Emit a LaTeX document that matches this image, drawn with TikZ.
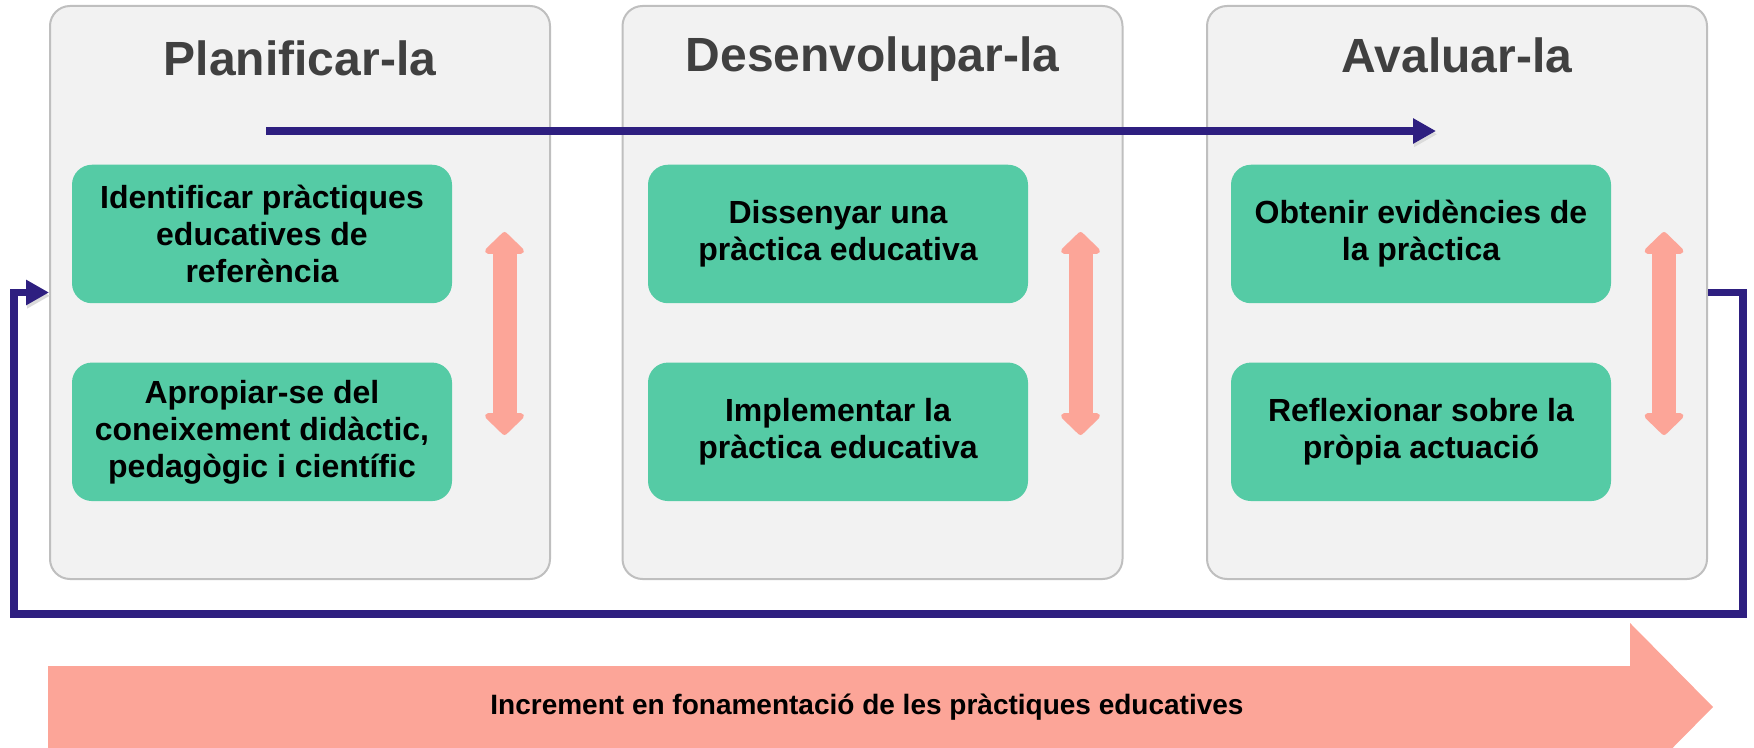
\documentclass[tikz,border=0pt]{standalone}
\usepackage{fontspec}
\setmainfont{Liberation Sans}
\usepackage{tikz}
\usetikzlibrary{arrows.meta,positioning,shapes}
\definecolor{panelfill}{HTML}{F2F2F2}
\definecolor{panelline}{HTML}{BFBFBF}
\definecolor{taskgreen}{HTML}{55CBA5}
\definecolor{salmonpink}{HTML}{FCA598}
\definecolor{loopblue}{HTML}{2E1F80}
\definecolor{titlegray}{HTML}{404040}

\begin{document}
\begin{tikzpicture}[x=0.5pt,y=-0.5pt,
   phase/.style={draw=panelline,line width=1pt,fill=panelfill,rounded corners=10pt,
                 minimum width=250pt,minimum height=286.5pt,inner sep=0pt},
   phasetitle/.style={anchor=base,text=titlegray,font=\bfseries\fontsize{24}{28}\selectfont},
   task/.style={fill=taskgreen,rounded corners=10pt,minimum width=190pt,minimum height=69.25pt,
                inner sep=0pt,align=center,font=\bfseries\fontsize{16}{18.5}\selectfont},
   swap/.style={draw=salmonpink,line width=12pt,
                {Triangle[length=11.5pt,width=23pt,round]}-{Triangle[length=11.5pt,width=23pt,round]}},
   cycle/.style={draw=loopblue,line width=3.75pt,-{Triangle[length=11.5pt,width=12pt]},
                 preaction={draw=black!14,transform canvas={xshift=0.6pt,yshift=-1.6pt}}}]
   \useasboundingbox (0,0) rectangle (1754,748);
   \clip (0,0) rectangle (1754,748);

   \node [phase] (Plan) at (300,292.5) {};
   \node [phase] (Dese) at (872.5,292.5) {};
   \node [phase] (Aval) at (1457,292.5) {};
   \node [phasetitle] (PlanT) at (300,76) {Planificar-la};
   \node [phasetitle] (DeseT) at (872.5,72) {Desenvolupar-la};
   \node [phasetitle] (AvalT) at (1457,73) {Avaluar-la};

   \node [task] (ident) at (262,234) {Identificar pràctiques\\educatives de\\referència};
   \node [task] (apro) [below=29.25pt of ident] {Apropiar-se del\\coneixement didàctic,\\pedagògic i científic};
   \node [task] (diss) at (838,234) {Dissenyar una\\pràctica educativa};
   \node [task] (impl) [below=29.25pt of diss] {Implementar la\\pràctica educativa};
   \node [task] (obte) at (1421,234) {Obtenir evidències de\\la pràctica};
   \node [task] (refl) [below=29.25pt of obte] {Reflexionar sobre la\\pròpia actuació};

   \coordinate (PlanUp) at (504.5,232);
   \coordinate (PlanDn) at (504.5,435);
   \coordinate (DeseUp) at (1080.5,232);
   \coordinate (DeseDn) at (1080.5,435);
   \coordinate (AvalUp) at (1664,232);
   \coordinate (AvalDn) at (1664,435);
   \draw [swap] (PlanUp) -- (PlanDn);
   \draw [swap] (DeseUp) -- (DeseDn);
   \draw [swap] (AvalUp) -- (AvalDn);

   \coordinate (flowS) at (266,131);
   \coordinate (flowE) at (1436,131);
   \draw [cycle] (flowS) -- (flowE);

   \coordinate (loopR) at (1743,614);
   \coordinate (loopL) at (14,614);
   \draw [cycle] (Aval.east) -| (loopR) -- (loopL) |- (Plan.west);

   \fill [salmonpink] (48,666) -- (1630,666) -- (1630,623) -- (1713,707)
      -- (1630,791) -- (1630,760) -- (48,760) -- cycle;
   \node [font=\bfseries\fontsize{14}{16}\selectfont] (incr) at (867,707)
      {Increment en fonamentació de les pràctiques educatives};
\end{tikzpicture}
\end{document}
